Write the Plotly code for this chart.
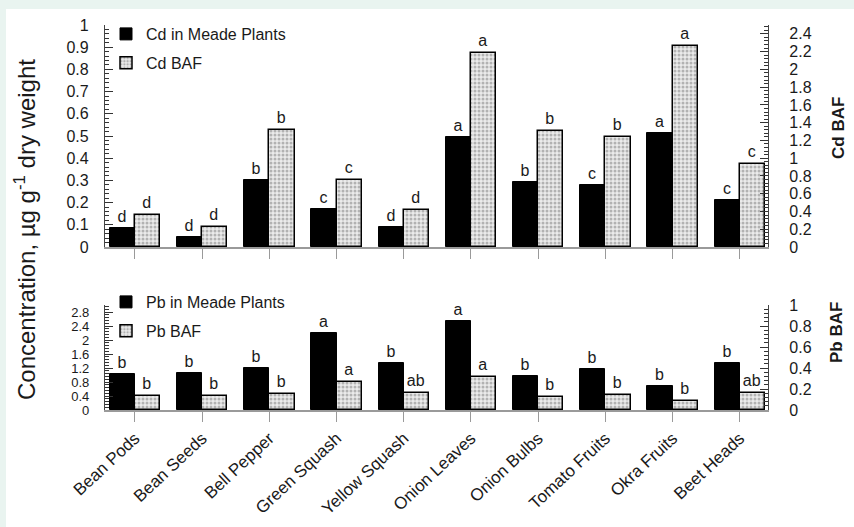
import plotly.graph_objects as go

W, H = 854, 527
FONT = "Liberation Sans, Arial, Helvetica, sans-serif"
INK = "#1a1a1a"
FRAME = "#e9f4f0"

categories = ["Bean Pods", "Bean Seeds", "Bell Pepper", "Green Squash", "Yellow Squash",
              "Onion Leaves", "Onion Bulbs", "Tomato Fruits", "Okra Fruits", "Beet Heads"]

# Cadmium: concentration (left axis) and bioaccumulation factor (right axis)
cd_plants = [0.086, 0.045, 0.30, 0.171, 0.09, 0.496, 0.293, 0.28, 0.515, 0.21]
cd_baf = [0.36, 0.225, 1.32, 0.75, 0.42, 2.18, 1.31, 1.24, 2.26, 0.935]
cd_plants_letters = ["d", "d", "b", "c", "d", "a", "b", "c", "a", "c"]
cd_baf_letters = ["d", "d", "b", "c", "d", "a", "b", "b", "a", "c"]

# Lead: concentration (left axis) and bioaccumulation factor (right axis)
pb_plants = [1.02, 1.05, 1.21, 2.19, 1.33, 2.54, 0.97, 1.16, 0.686, 1.33]
pb_baf = [0.133, 0.133, 0.152, 0.27, 0.159, 0.317, 0.12, 0.143, 0.086, 0.165]
pb_plants_letters = ["b", "b", "b", "a", "b", "a", "b", "b", "b", "b"]
pb_baf_letters = ["b", "b", "b", "a", "ab", "a", "b", "b", "b", "ab"]


def fx(p):
    return p / W


def fy(p):
    return 1 - p / H


BAR_W = 0.375
solid = dict(color="black", line=dict(color="black", width=1))
dotted = dict(color="#e4e4e4", line=dict(color="black", width=1.5),
              pattern=dict(shape=".", fgcolor="#7a7a7a", bgcolor="#ebebeb",
                           size=4, solidity=0.45))
letter_font = dict(family=FONT, size=16, color=INK)


def bars(name, vals, letters, xa, ya, marker, offset, legend, group):
    return go.Bar(x=categories, y=vals, name=name, text=letters,
                  textposition="outside", textfont=letter_font,
                  constraintext="none", cliponaxis=False,
                  width=BAR_W, offset=offset, marker=marker,
                  xaxis=xa, yaxis=ya, legend=legend, legendgroup=group,
                  hoverinfo="x+y+name")


fig = go.Figure()
fig.add_trace(bars("Cd in Meade Plants", cd_plants, cd_plants_letters, "x", "y", solid, -BAR_W, "legend", "cd1"))
fig.add_trace(bars("Cd BAF", cd_baf, cd_baf_letters, "x", "y2", dotted, 0, "legend", "cd2"))
fig.add_trace(bars("Pb in Meade Plants", pb_plants, pb_plants_letters, "x2", "y3", solid, -BAR_W, "legend2", "pb1"))
fig.add_trace(bars("Pb BAF", pb_baf, pb_baf_letters, "x2", "y4", dotted, 0, "legend2", "pb2"))

xdom = [fx(105), fx(768)]
xrange = [-0.446, 9.42]
top_dom = [fy(247), fy(25)]
bot_dom = [fy(410), fy(305)]

tick_font = dict(family=FONT, size=16, color=INK)
xcommon = dict(domain=xdom, range=xrange, type="category", showline=True,
               linecolor="#9a9a9a", linewidth=1.5, ticks="outside", ticklen=10,
               tickcolor="#9a9a9a", tickwidth=1, showgrid=False, zeroline=False,
               automargin=False)
ycommon = dict(showline=True, linecolor="#444", linewidth=1.2, ticks="inside",
               ticklen=8, tickcolor="#333", tickwidth=1, showgrid=False,
               zeroline=False, tickfont=tick_font, ticklabelstandoff=12,
               automargin=False)
yright = {**ycommon, "ticklabelstandoff": 17}
minor_style = dict(ticklen=4, ticks="inside", tickcolor="#333")
legend_style = dict(xanchor="left", yanchor="top", bgcolor="rgba(0,0,0,0)",
                    tracegroupgap=5, font=dict(family=FONT, size=16, color=INK))

fig.update_layout(
    width=W, height=H, autosize=False,
    margin=dict(l=0, r=0, t=0, b=0, pad=0),
    paper_bgcolor=FRAME, plot_bgcolor="white",
    barmode="overlay", bargap=0,
    font=dict(family=FONT, color=INK),
    xaxis=dict(**xcommon, anchor="y", showticklabels=False),
    xaxis2=dict(**xcommon, anchor="y3", showticklabels=True, tickangle=-43,
                tickfont=dict(family=FONT, size=17, color=INK)),
    yaxis=dict(**ycommon, domain=top_dom, range=[0, 1], dtick=0.1, anchor="x",
               minor=dict(dtick=0.02, **minor_style)),
    yaxis2=dict(**yright, overlaying="y", side="right", anchor="x",
                range=[0, 2.5], dtick=0.2, minor=dict(dtick=0.04, **minor_style)),
    yaxis3=dict(**{**ycommon, "tickfont": dict(family=FONT, size=13, color=INK)},
                domain=bot_dom, range=[0, 3], dtick=0.4, anchor="x2",
                minor=dict(dtick=0.08, **minor_style)),
    yaxis4=dict(**yright, overlaying="y3", side="right", anchor="x2",
                range=[0, 1], dtick=0.2, minor=dict(dtick=0.04, **minor_style)),
    legend=dict(x=fx(106), y=fy(17), **legend_style),
    legend2=dict(x=fx(106), y=fy(285), **legend_style),
    showlegend=True,
)

# white page area inside the light frame on the top and left edges
fig.add_shape(type="rect", xref="paper", yref="paper", x0=fx(6), x1=1, y0=0, y1=fy(9),
              fillcolor="white", line_width=0, layer="below")

fig.add_annotation(text="Concentration, \u00b5g g<sup>-1</sup> dry weight",
                   xref="paper", yref="paper", x=fx(25), y=fy(230),
                   xanchor="center", yanchor="middle",
                   textangle=-90, showarrow=False,
                   font=dict(family=FONT, size=24, color=INK))
fig.add_annotation(text="<b>Cd BAF</b>", xref="paper", yref="paper",
                   x=fx(838), y=fy(128), xanchor="center", yanchor="middle",
                   textangle=-90, showarrow=False,
                   font=dict(family=FONT, size=17, color=INK))
fig.add_annotation(text="<b>Pb BAF</b>", xref="paper", yref="paper",
                   x=fx(836), y=fy(333), xanchor="center", yanchor="middle",
                   textangle=-90, showarrow=False,
                   font=dict(family=FONT, size=17, color=INK))

fig.write_html("out.html")
